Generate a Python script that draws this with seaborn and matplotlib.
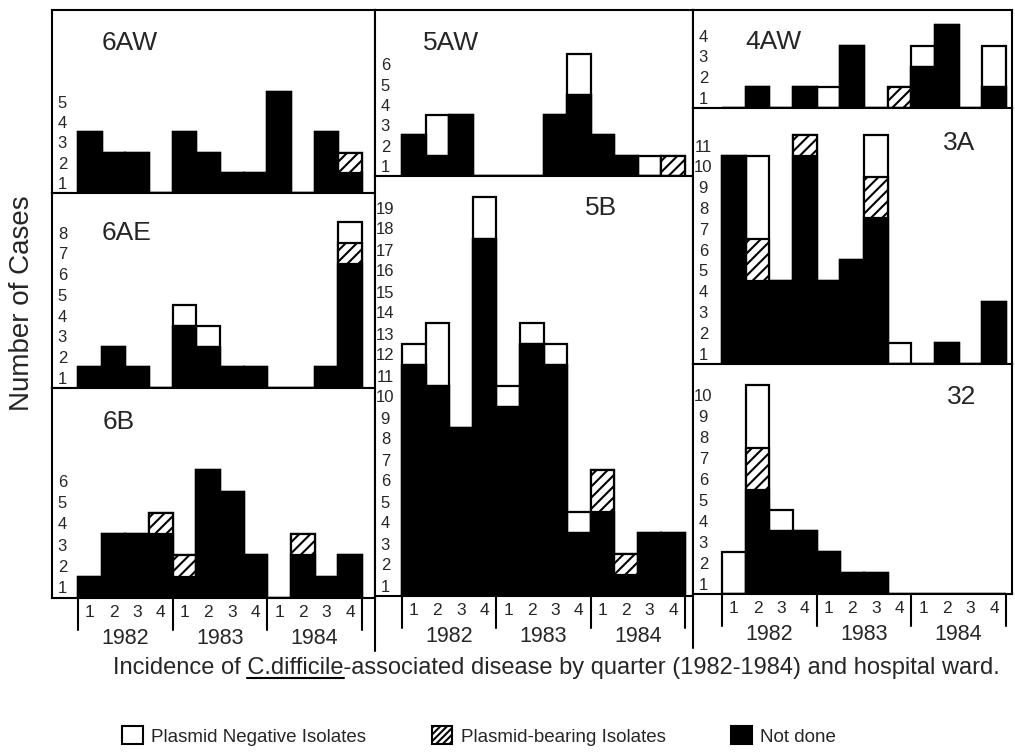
import numpy as np
import pandas as pd
import matplotlib
matplotlib.use("Agg")
import matplotlib.pyplot as plt
import seaborn as sns
from matplotlib.lines import Line2D
from matplotlib.patches import Patch

# ---------------- data ----------------
quarters = ["1", "2", "3", "4"] * 3
years = ["1982", "1983", "1984"]
wards = ["6AW", "6AE", "6B", "5AW", "5B", "4AW", "3A", "32"]
series_labels = ["Plasmid Negative Isolates", "Plasmid-bearing Isolates", "Not done"]

not_done_6AW = [3, 2, 2, 0, 3, 2, 1, 1, 5, 0, 3, 1]
bearing_6AW = [0, 0, 0, 0, 0, 0, 0, 0, 0, 0, 0, 1]
negative_6AW = [0, 0, 0, 0, 0, 0, 0, 0, 0, 0, 0, 0]

not_done_6AE = [1, 2, 1, 0, 3, 2, 1, 1, 0, 0, 1, 6]
bearing_6AE = [0, 0, 0, 0, 0, 0, 0, 0, 0, 0, 0, 1]
negative_6AE = [0, 0, 0, 0, 1, 1, 0, 0, 0, 0, 0, 1]

not_done_6B = [1, 3, 3, 3, 1, 6, 5, 2, 0, 2, 1, 2]
bearing_6B = [0, 0, 0, 1, 1, 0, 0, 0, 0, 1, 0, 0]
negative_6B = [0, 0, 0, 0, 0, 0, 0, 0, 0, 0, 0, 0]

not_done_5AW = [2, 1, 3, 0, 0, 0, 3, 4, 2, 1, 0, 0]
bearing_5AW = [0, 0, 0, 0, 0, 0, 0, 0, 0, 0, 0, 1]
negative_5AW = [0, 2, 0, 0, 0, 0, 0, 2, 0, 0, 1, 0]

not_done_5B = [11, 10, 8, 17, 9, 12, 11, 3, 4, 1, 3, 3]
bearing_5B = [0, 0, 0, 0, 0, 0, 0, 0, 2, 1, 0, 0]
negative_5B = [1, 3, 0, 2, 1, 1, 1, 1, 0, 0, 0, 0]

not_done_4AW = [0, 1, 0, 1, 0, 3, 0, 0, 2, 4, 0, 1]
bearing_4AW = [0, 0, 0, 0, 0, 0, 0, 1, 0, 0, 0, 0]
negative_4AW = [0, 0, 0, 0, 1, 0, 0, 0, 1, 0, 0, 2]

not_done_3A = [10, 4, 4, 10, 4, 5, 7, 0, 0, 1, 0, 3]
bearing_3A = [0, 2, 0, 1, 0, 0, 2, 0, 0, 0, 0, 0]
negative_3A = [0, 4, 0, 0, 0, 0, 2, 1, 0, 0, 0, 0]

not_done_32 = [0, 5, 3, 3, 2, 1, 1, 0, 0, 0, 0, 0]
bearing_32 = [0, 2, 0, 0, 0, 0, 0, 0, 0, 0, 0, 0]
negative_32 = [2, 3, 1, 0, 0, 0, 0, 0, 0, 0, 0, 0]

ytick_counts = [5, 8, 6, 6, 19, 4, 11, 10]

ylabel_text = "Number of Cases"
caption_pre = "Incidence of "
caption_under = "C.difficile"
caption_post = "-associated disease by quarter (1982-1984) and hospital ward."

data = {
    "6AW": (not_done_6AW, bearing_6AW, negative_6AW),
    "6AE": (not_done_6AE, bearing_6AE, negative_6AE),
    "6B": (not_done_6B, bearing_6B, negative_6B),
    "5AW": (not_done_5AW, bearing_5AW, negative_5AW),
    "5B": (not_done_5B, bearing_5B, negative_5B),
    "4AW": (not_done_4AW, bearing_4AW, negative_4AW),
    "3A": (not_done_3A, bearing_3A, negative_3A),
    "32": (not_done_32, bearing_32, negative_32),
}

# ---------------- layout (pixels) ----------------
W, H = 1015, 756
# ward: col_x0, col_x1, bar_x0, bar_x1, y_top, y_base, px_per_unit, title_dx, title_dy, bottom?
layout = {
    "6AW": (52, 375, 78, 362, 10, 193, 20.2, 50, 33, False),
    "6AE": (52, 375, 78, 362, 193, 388, 20.7, 50, 40, False),
    "6B": (52, 375, 78, 362, 388, 598, 21.3, 51, 34, True),
    "5AW": (375, 693, 402, 685, 10, 176, 20.3, 48, 33, False),
    "5B": (375, 693, 402, 685, 176, 596, 21.0, 210, 32, True),
    "4AW": (693, 1012, 722, 1006, 10, 108, 20.7, 52, 32, False),
    "3A": (693, 1012, 722, 1006, 108, 364, 20.8, 250, 35, False),
    "32": (693, 1012, 722, 1006, 364, 594, 20.9, 254, 33, True),
}

sns.set_style("white")
plt.rcParams["font.family"] = ["Liberation Sans", "DejaVu Sans"]
plt.rcParams["hatch.linewidth"] = 1.5

LW = 1.6
HATCH = "///"

fig = plt.figure(figsize=(W / 100, H / 100), dpi=100)


def add_ax(x0, x1, y0, y1):
    return fig.add_axes([x0 / W, 1 - y1 / H, (x1 - x0) / W, (y1 - y0) / H])


for ward, nticks in zip(wards, ytick_counts):
    nd, hb, ng = data[ward]
    cx0, cx1, bx0, bx1, yt, yb, unit, tdx, tdy, is_bottom = layout[ward]
    ax = add_ax(cx0, cx1, yt, yb)
    nd_a = np.array(nd)
    hb_a = np.array(hb)
    ng_a = np.array(ng)
    df = pd.DataFrame({
        "q": np.arange(12),
        "total": nd_a + hb_a + ng_a,
        "mid": nd_a + hb_a,
        "black": nd_a,
    })
    common = dict(data=df, x="q", ax=ax, width=1, saturation=1,
                  errorbar=None, edgecolor="black", linewidth=LW)
    sns.barplot(y="total", color="white", **common)
    sns.barplot(y="mid", color="white", hatch=HATCH, **common)
    sns.barplot(y="black", color="black", **common)

    bw = (bx1 - bx0) / 12
    ax.set_xlim(-0.5 - (bx0 - cx0) / bw, 11.5 + (cx1 - bx1) / bw)
    ax.set_ylim(0, (yb - yt) / unit)
    ax.set_xlabel("")
    ax.set_ylabel("")
    ticks = np.arange(1, nticks + 1)
    ax.set_yticks(ticks - 0.5)
    ax.set_yticklabels([str(t) for t in ticks])
    ax.tick_params(axis="y", length=0, pad=-7.5, labelsize=12)
    for lab in ax.get_yticklabels():
        lab.set_ha("center")
    for sp in ax.spines.values():
        sp.set_visible(True)
        sp.set_color("black")
        sp.set_linewidth(1.5)
    axw = cx1 - cx0
    axh = yb - yt
    ax.text(tdx / axw, 1 - tdy / axh, ward, transform=ax.transAxes,
            ha="left", va="center", fontsize=19)

    if is_bottom:
        ax.set_xticks(np.arange(12))
        ax.set_xticklabels(quarters)
        ax.tick_params(axis="x", length=0, pad=5, labelsize=12.5)
        trans = ax.get_xaxis_transform()
        for s in [-0.5, 3.5, 7.5, 11.5]:
            ax.plot([s, s], [0, -32 / axh], transform=trans, color="black",
                    lw=1.5, clip_on=False)
        for i, yr in enumerate(years):
            ax.text(1.5 + 4 * i, -40 / axh, yr, transform=trans, ha="center",
                    va="center", fontsize=15.5)
    else:
        ax.set_xticks([])

# column boundary extensions below the panels
for x, y0, y1 in [(375, 596, 651), (693, 594, 648)]:
    fig.add_artist(Line2D([x / W, x / W], [1 - y0 / H, 1 - y1 / H],
                          color="black", lw=1.5))

# y label
fig.text(22 / W, 1 - 303 / H, ylabel_text, rotation=90, ha="center",
         va="center", fontsize=20)

# caption with underlined species name
cap_fs = 17
cap_x = 113 / W
cap_y = 1 - 668 / H
full = caption_pre + caption_under + caption_post
t_full = fig.text(cap_x, cap_y, full, ha="left", va="center", fontsize=cap_fs)
fig.canvas.draw()
r = fig.canvas.get_renderer()


def wpx(s):
    t = fig.text(0, 0, s, fontsize=cap_fs)
    w = t.get_window_extent(r).width
    t.remove()
    return w


pre_w = wpx(caption_pre + "C") - wpx("C")
und_w = wpx(caption_under)
bb = t_full.get_window_extent(r)
ux0 = bb.x0 + pre_w
uy = bb.y0 + 1.5
fig.add_artist(Line2D([ux0 / W, (ux0 + und_w) / W], [uy / H, uy / H],
                      color="black", lw=1.5))

# legend
handles = [
    Patch(facecolor="white", edgecolor="black", linewidth=1.5),
    Patch(facecolor="white", edgecolor="black", hatch="/////", linewidth=1.5),
    Patch(facecolor="black", edgecolor="black", linewidth=1.5),
]
fig.legend(handles, series_labels, loc="center left",
           bbox_to_anchor=(122 / W, 1 - 736 / H), ncol=3, frameon=False,
           fontsize=13.5, handlelength=1.1, handleheight=1.1,
           handletextpad=0.45, columnspacing=3.5, borderpad=0,
           borderaxespad=0)

fig.savefig("out.png", dpi=100)
